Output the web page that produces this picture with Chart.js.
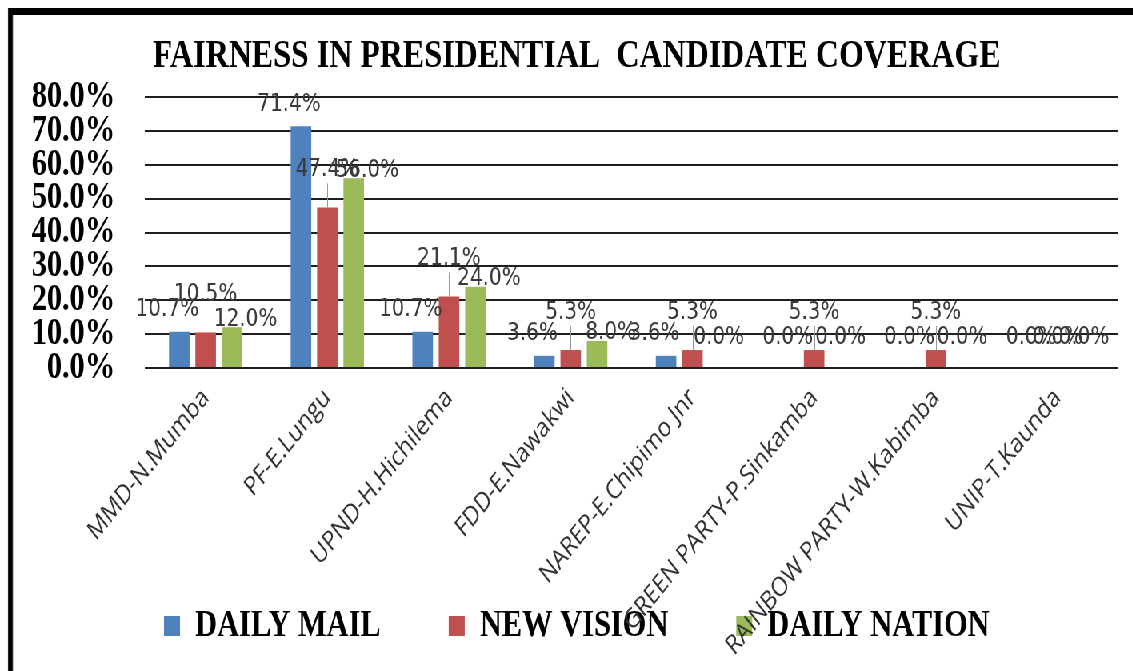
<!DOCTYPE html>
<html>
<head>
<meta charset="utf-8">
<script src="https://cdn.jsdelivr.net/npm/chart.js@4.4.0/dist/chart.umd.min.js"></script>
<style>
  html, body { margin: 0; padding: 0; background: #fff; overflow: hidden; }
  /* the reference is squeezed horizontally, so draw wide and squeeze */
  #stage { position: relative; width: 1416px; height: 671px; transform: scaleX(0.8); transform-origin: 0 0; }
  #frame { position: absolute; left: 10px; top: 8px; width: 1500px; height: 700px; border-top: 7px solid #000; border-left: 6px solid #000; }
  #chart { position: absolute; left: 16px; top: 15px; }
</style>
</head>
<body>
<div id="stage">
  <div id="frame"></div>
  <canvas id="chart" width="1410" height="656"></canvas>
</div>
<script>
// candidates on the x axis
const candidates = [
  'MMD-N.Mumba', 'PF-E.Lungu', 'UPND-H.Hichilema', 'FDD-E.Nawakwi',
  'NAREP-E.Chipimo Jnr', 'GREEN PARTY-P.Sinkamba', 'RAINBOW PARTY-W.Kabimba', 'UNIP-T.Kaunda'
];

// share of fair coverage, percent
const dailyMail   = [10.7, 71.4, 10.7, 3.6, 3.6, 0.0, 0.0, 0.0];
const newVision   = [10.5, 47.4, 21.1, 5.3, 5.3, 5.3, 5.3, 0.0];
const dailyNation = [12.0, 56.0, 24.0, 8.0, 0.0, 0.0, 0.0, 0.0];

const yMax = 80;
const yStep = 10;

// where each series puts its value label, relative to the bar top
const labelShift = [[-15, -22], [0, -38], [17, -8]];
const zeroShift = [0, -31];

const barLabels = {
  id: 'barLabels',
  afterDatasetsDraw(chart) {
    const ctx = chart.ctx;
    ctx.save();
    ctx.font = '25px "DejaVu Sans"';
    ctx.textAlign = 'center';
    ctx.textBaseline = 'middle';
    chart.data.datasets.forEach((ds, i) => {
      chart.getDatasetMeta(i).data.forEach((bar, j) => {
        const v = ds.data[j];
        const [dx, dy] = v === 0 ? zeroShift : labelShift[i];
        const x = bar.x + dx;
        const y = bar.y + dy;
        if (i === 1 && v > 0) {
          // leader line back to the bar
          ctx.strokeStyle = '#9a9a9a';
          ctx.lineWidth = 1;
          ctx.beginPath();
          ctx.moveTo(Math.round(bar.x) + 0.5, y + 14);
          ctx.lineTo(Math.round(bar.x) + 0.5, bar.y);
          ctx.stroke();
        }
        ctx.fillStyle = '#3a3a3a';
        ctx.fillText(v.toFixed(1) + '%', x, y);
      });
    });
    ctx.restore();
  }
};

const serif = 'Liberation Serif';

new Chart(document.getElementById('chart'), {
  type: 'bar',
  data: {
    labels: candidates,
    datasets: [
      { label: 'DAILY MAIL', data: dailyMail, backgroundColor: '#4F81BD' },
      { label: 'NEW VISION', data: newVision, backgroundColor: '#C0504D' },
      { label: 'DAILY NATION', data: dailyNation, backgroundColor: '#9BBB59' }
    ]
  },
  options: {
    responsive: false,
    animation: false,
    devicePixelRatio: 1,
    layout: { padding: { left: 0, right: 0, top: 0, bottom: 16 } },
    datasets: {
      bar: { categoryPercentage: 0.65, barPercentage: 0.78, borderWidth: 0 }
    },
    plugins: {
      title: {
        display: true,
        text: 'FAIRNESS IN PRESIDENTIAL  CANDIDATE COVERAGE',
        color: '#000',
        font: { family: serif, size: 40, weight: 'bold', lineHeight: 1 },
        padding: { top: 22, bottom: 20 }
      },
      legend: {
        position: 'bottom',
        labels: {
          color: '#000',
          font: { family: serif, size: 38, weight: 'bold' },
          boxWidth: 20,
          boxHeight: 20,
          padding: 85
        }
      },
      tooltip: { enabled: false }
    },
    scales: {
      x: {
        grid: { display: false },
        border: { display: false },
        ticks: {
          autoSkip: false,
          minRotation: 45,
          maxRotation: 45,
          padding: 6,
          color: '#333',
          font: { family: 'Open Sans', size: 27 }
        },
        afterFit(scale) {
          scale.height = 154;
          // long names run down into the legend, as in the original
          scale._computeLabelArea = () => undefined;
        }
      },
      y: {
        min: 0,
        max: yMax,
        grid: { color: '#1e1e1e', lineWidth: 2, drawTicks: false },
        border: { display: false },
        ticks: {
          stepSize: yStep,
          autoSkip: false,
          padding: 37,
          color: '#000',
          font: { family: serif, size: 38, weight: 'bold', lineHeight: 1 },
          callback: v => v.toFixed(1) + '%'
        },
        afterFit(scale) { scale.width = 165; }
      },
      // empty margin on the right so title and legend stay centred on the frame
      rightMargin: {
        type: 'linear',
        position: 'right',
        grid: { display: false },
        border: { display: false },
        ticks: { display: false },
        afterFit(scale) { scale.width = 28; }
      }
    }
  },
  plugins: [barLabels]
});
</script>
</body>
</html>
